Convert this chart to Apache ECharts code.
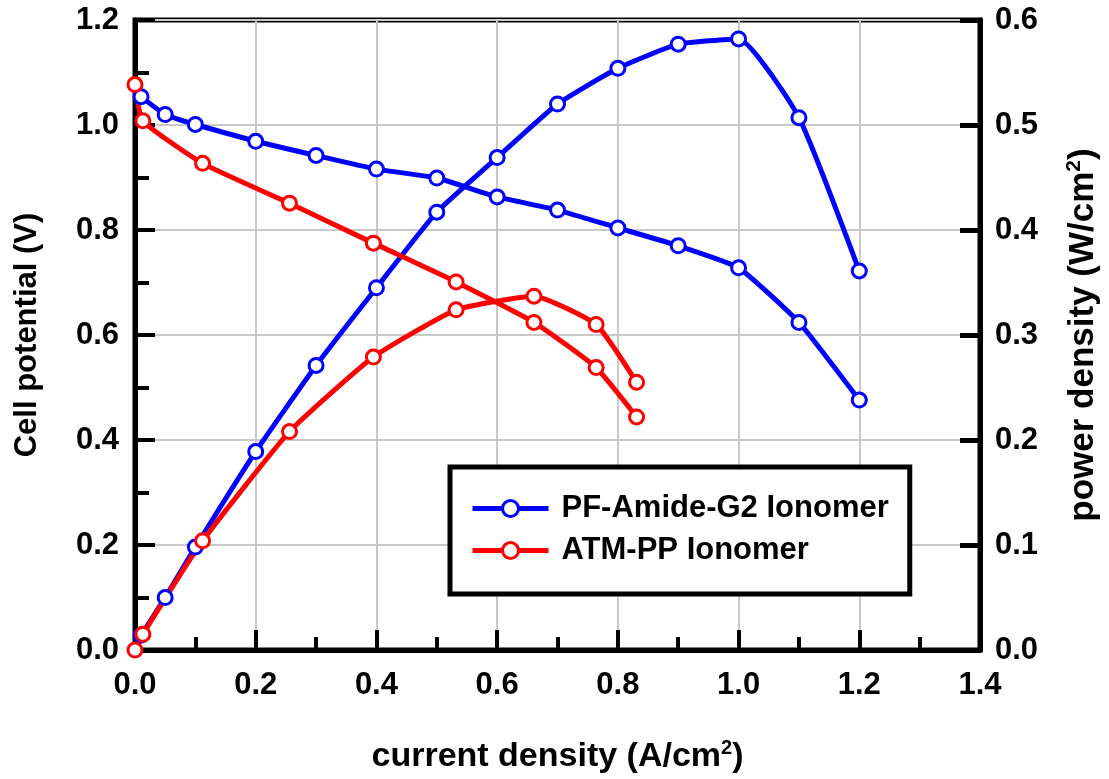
<!DOCTYPE html>
<html>
<head>
<meta charset="utf-8">
<script src="https://cdn.jsdelivr.net/npm/echarts@6/dist/echarts.min.js"></script>
<style>
  html, body { margin: 0; padding: 0; background: #fff; }
  #chart { width: 1109px; height: 779px; }
</style>
</head>
<body>
<div id="chart"></div>
<script>
// current density (A/cm2) for each sample
var blueCurrent = [0.01, 0.05, 0.1, 0.2, 0.3, 0.4, 0.5, 0.6, 0.7, 0.8, 0.9, 1.0, 1.1, 1.2];
var blueVoltage = [1.054, 1.020, 1.001, 0.969, 0.942, 0.916, 0.899, 0.863, 0.838, 0.804, 0.770, 0.728, 0.624, 0.476];
var bluePower   = [0.014, 0.050, 0.098, 0.189, 0.271, 0.345, 0.417, 0.469, 0.520, 0.554, 0.577, 0.582, 0.507, 0.361];

var redCurrent = [0, 0.013, 0.112, 0.256, 0.395, 0.532, 0.661, 0.764, 0.831];
var redVoltage = [1.077, 1.008, 0.927, 0.851, 0.775, 0.701, 0.624, 0.538, 0.444];
var redPower   = [0, 0.015, 0.104, 0.208, 0.279, 0.324, 0.337, 0.310, 0.255];

var seriesNames = ['PF-Amide-G2 Ionomer', 'ATM-PP Ionomer'];

var FONT = "'Liberation Sans', Arial, sans-serif";

function pairs(xs, ys) {
  return xs.map(function (x, i) { return [x, ys[i]]; });
}

function lineSeries(name, color, xs, ys, yIdx) {
  return {
    name: name,
    type: 'line',
    yAxisIndex: yIdx,
    data: pairs(xs, ys),
    smooth: 0.15,
    symbol: 'circle',
    symbolSize: 14,
    lineStyle: { color: color, width: 5 },
    itemStyle: { color: '#fff', borderColor: color, borderWidth: 3 },
    emphasis: { disabled: true }
  };
}

function richName(size) {
  return {
    n: { fontFamily: FONT, fontSize: size, fontWeight: 'bold', color: '#000', lineHeight: size + 4 },
    s: { fontFamily: FONT, fontSize: Math.round(size * 0.6), fontWeight: 'bold', color: '#000', verticalAlign: 'top', lineHeight: size + 4 }
  };
}

var tickLabel = {
  fontFamily: FONT, fontSize: 31, fontWeight: 'bold', color: '#000',
  formatter: function (v) { return v.toFixed(1); }
};

var chart = echarts.init(document.getElementById('chart'), null, { renderer: 'canvas' });

var option = {
  backgroundColor: '#fff',
  animation: false,
  grid: {
    left: 135, right: 127, top: 20, bottom: 126,
    show: true, borderColor: '#000', borderWidth: 5, backgroundColor: 'transparent'
  },
  legend: {
    left: 450, top: 467,
    orient: 'vertical',
    data: seriesNames,
    backgroundColor: '#fff',
    borderColor: '#000',
    borderWidth: 5,
    borderRadius: 0,
    padding: [25, 21, 27, 20],
    itemWidth: 76,
    itemHeight: 20,
    itemGap: 9,
    itemStyle: { color: '#fff', borderWidth: 3 },
    lineStyle: { width: 5 },
    textStyle: { fontFamily: FONT, fontSize: 31, fontWeight: 'bold', color: '#000', lineHeight: 33, padding: [0, 0, 0, 8] }
  },
  xAxis: {
    type: 'value',
    min: 0, max: 1.4, interval: 0.2,
    name: '{n|current density (A/cm}{s|2}{n|)}',
    nameLocation: 'middle',
    nameGap: 88,
    nameTextStyle: { rich: richName(34) },
    axisLine: { show: true, lineStyle: { color: '#000', width: 5 } },
    axisTick: { show: true, inside: true, length: 20, lineStyle: { color: '#000', width: 4 } },
    minorTick: { show: true, splitNumber: 2, length: 13, lineStyle: { color: '#000', width: 4 } },
    axisLabel: Object.assign({ margin: 20 }, tickLabel),
    splitLine: { show: true, lineStyle: { color: '#c8c8c8', width: 2 } }
  },
  yAxis: [
    {
      type: 'value',
      position: 'left',
      min: 0, max: 1.2, interval: 0.2,
      name: 'Cell potential (V)',
      nameLocation: 'middle',
      nameRotate: 90,
      nameGap: 92,
      nameTextStyle: { fontFamily: FONT, fontSize: 31, fontWeight: 'bold', color: '#000' },
      axisLine: { show: true, lineStyle: { color: '#000', width: 5 } },
      axisTick: { show: true, inside: true, length: 20, lineStyle: { color: '#000', width: 4 } },
      minorTick: { show: true, splitNumber: 2, length: 14, lineStyle: { color: '#000', width: 4 } },
      axisLabel: Object.assign({ margin: 16 }, tickLabel),
      splitLine: { show: true, lineStyle: { color: '#c8c8c8', width: 2 } }
    },
    {
      type: 'value',
      position: 'right',
      min: 0, max: 0.6, interval: 0.1,
      name: '{n|power density (W/cm}{s|2}{n|)}',
      nameLocation: 'middle',
      nameRotate: 90,
      nameGap: 84,
      nameTextStyle: { rich: richName(35) },
      axisLine: { show: true, lineStyle: { color: '#000', width: 5 } },
      axisTick: { show: true, inside: true, length: 20, lineStyle: { color: '#000', width: 5 } },
      axisLabel: Object.assign({ margin: 15 }, tickLabel),
      splitLine: { show: false }
    }
  ],
  series: [
    lineSeries(seriesNames[0], '#0000ff', blueCurrent, blueVoltage, 0),
    lineSeries(seriesNames[0], '#0000ff', blueCurrent, bluePower, 1),
    lineSeries(seriesNames[1], '#ff0000', redCurrent, redVoltage, 0),
    lineSeries(seriesNames[1], '#ff0000', redCurrent, redPower, 1)
  ]
};

chart.setOption(option);
</script>
</body>
</html>
